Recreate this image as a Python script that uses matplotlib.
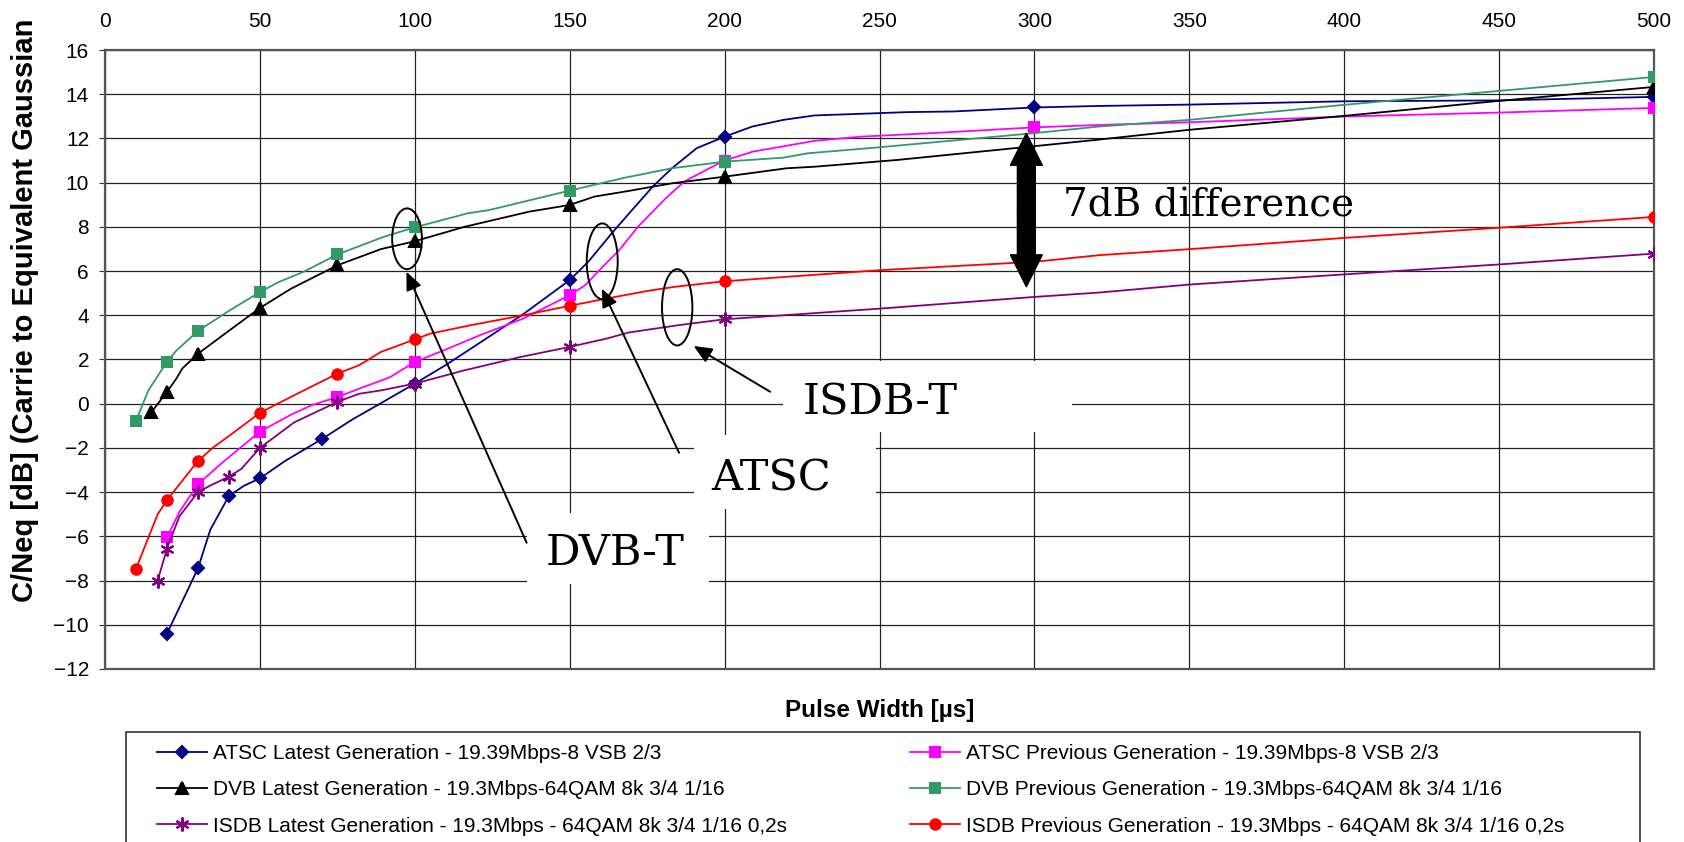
import matplotlib
matplotlib.use('Agg')
import matplotlib.pyplot as plt
from matplotlib.patches import Ellipse, Rectangle

plt.rcParams['font.family'] = ['Liberation Sans', 'DejaVu Sans']

# pulse width [us] vs C/Neq [dB], line vertices
atsc_new_x = [20, 30, 34, 40, 45, 50, 58, 70, 80, 90, 100, 110, 122, 135, 150, 156, 164, 171, 177, 183,
              191, 200, 209, 219, 229, 259, 274, 300, 321, 350, 400, 450, 500]
atsc_new_y = [-10.4, -7.45, -5.7, -4.17, -3.7, -3.38, -2.6, -1.6, -0.7, 0.1, 0.91, 1.75, 2.85, 4.05, 5.59,
              6.42, 7.78, 8.9, 9.85, 10.65, 11.56, 12.08, 12.54, 12.84, 13.04, 13.19, 13.22, 13.4, 13.47,
              13.53, 13.68, 13.72, 13.88]
atsc_new_marks = [20, 30, 40, 50, 70, 100, 150, 200, 300, 500]

atsc_old_x = [20, 24, 30, 38, 50, 60, 67, 75, 82, 92, 100, 110, 121, 135, 150, 155, 160, 166, 172, 181,
              187, 194, 200, 209, 229, 244, 267, 300, 321, 350, 400, 450, 500]
atsc_old_y = [-6.05, -4.9, -3.64, -2.65, -1.26, -0.5, -0.05, 0.3, 0.68, 1.2, 1.89, 2.45, 3.1, 3.85, 4.91,
              5.36, 6.1, 6.95, 8.0, 9.29, 10.05, 10.57, 11.0, 11.4, 11.89, 12.08, 12.24, 12.5, 12.61,
              12.73, 12.99, 13.17, 13.38]
atsc_old_marks = [20, 30, 50, 75, 100, 150, 200, 300, 500]

dvb_new_x = [15, 20, 23, 25, 30, 40, 50, 60, 75, 89, 100, 116, 137, 150, 158, 168, 183, 200, 220, 229,
             256, 300, 321, 350, 400, 450, 500]
dvb_new_y = [-0.38, 0.53, 1.13, 1.6, 2.26, 3.3, 4.33, 5.2, 6.26, 6.99, 7.35, 8.0, 8.69, 8.99, 9.37, 9.6,
             9.97, 10.27, 10.65, 10.72, 11.03, 11.65, 11.95, 12.39, 13.02, 13.7, 14.33]
dvb_new_marks = [15, 20, 30, 50, 75, 100, 150, 200, 500]

dvb_old_x = [10, 14, 20, 23, 30, 40, 50, 56, 64, 75, 90, 100, 117, 124, 137, 150, 168, 183, 200, 219,
             227, 250, 300, 321, 350, 400, 450, 500]
dvb_old_y = [-0.78, 0.6, 1.9, 2.4, 3.29, 4.2, 5.05, 5.5, 5.96, 6.75, 7.55, 7.98, 8.61, 8.76, 9.2, 9.64,
             10.23, 10.65, 10.95, 11.13, 11.33, 11.6, 12.24, 12.54, 12.84, 13.52, 14.15, 14.78]
dvb_old_marks = [10, 20, 30, 50, 75, 100, 150, 200, 500]

isdb_new_x = [17, 20, 24, 30, 34, 40, 44, 50, 61, 75, 82, 89, 100, 116, 134, 150, 162, 169, 185, 200,
              250, 300, 321, 350, 400, 450, 500]
isdb_new_y = [-8.0, -6.56, -5.1, -4.0, -3.7, -3.3, -2.95, -2.0, -0.85, 0.08, 0.45, 0.6, 0.91, 1.51, 2.11,
              2.57, 2.95, 3.22, 3.55, 3.82, 4.3, 4.83, 5.03, 5.39, 5.85, 6.3, 6.79]
isdb_new_marks = [17, 20, 30, 40, 50, 75, 100, 150, 200, 500]

isdb_old_x = [10, 17, 20, 30, 35, 41, 50, 62, 75, 82, 89, 100, 105, 118, 135, 150, 162, 175, 184, 200,
              250, 300, 321, 350, 400, 450, 500]
isdb_old_y = [-7.47, -5.0, -4.36, -2.59, -1.97, -1.36, -0.41, 0.45, 1.36, 1.74, 2.34, 2.91, 3.17, 3.55,
              4.0, 4.43, 4.76, 5.1, 5.29, 5.54, 6.04, 6.42, 6.72, 6.99, 7.5, 7.96, 8.45]
isdb_old_marks = [10, 20, 30, 50, 75, 100, 150, 200, 500]

labels = {
    'atsc_new': 'ATSC Latest Generation - 19.39Mbps-8 VSB 2/3',
    'atsc_old': 'ATSC Previous Generation - 19.39Mbps-8 VSB 2/3',
    'dvb_new': 'DVB Latest Generation - 19.3Mbps-64QAM 8k 3/4 1/16',
    'dvb_old': 'DVB Previous Generation - 19.3Mbps-64QAM 8k 3/4 1/16',
    'isdb_new': 'ISDB Latest Generation - 19.3Mbps - 64QAM 8k 3/4 1/16 0,2s',
    'isdb_old': 'ISDB Previous Generation - 19.3Mbps - 64QAM 8k 3/4 1/16 0,2s',
}

x_ticks = list(range(0, 501, 50))
y_ticks = list(range(-12, 17, 2))

# (key, x, y, marker positions, colour, marker, size)
series = [
    ('atsc_new', atsc_new_x, atsc_new_y, atsc_new_marks, '#000080', 'D', 6),
    ('atsc_old', atsc_old_x, atsc_old_y, atsc_old_marks, '#FF00FF', 's', 7),
    ('dvb_new', dvb_new_x, dvb_new_y, dvb_new_marks, '#000000', '^', 8),
    ('dvb_old', dvb_old_x, dvb_old_y, dvb_old_marks, '#339966', 's', 7),
    ('isdb_new', isdb_new_x, isdb_new_y, isdb_new_marks, '#800080', (6, 2, 0), 10),
    ('isdb_old', isdb_old_x, isdb_old_y, isdb_old_marks, '#FF0000', 'o', 7.5),
]

W, H = 1684, 842
fig = plt.figure(figsize=(W / 100, H / 100), dpi=100)
ax = fig.add_axes([105 / W, 1 - 669 / H, (1654 - 105) / W, (669 - 50) / H])

handles = {}
for key, xs, ys, marks, col, mk, ms in series:
    idx = [i for i, v in enumerate(xs) if v in marks]
    ln, = ax.plot(xs, ys, color=col, lw=1.3, marker=mk, ms=ms, markevery=idx,
                  mec=col, mfc=col, mew=1.5, label=labels[key], zorder=3)
    handles[key] = ln

ax.set_xlim(0, 500)
ax.set_ylim(-12, 16)
ax.set_xticks(x_ticks)
ax.set_yticks(y_ticks)
ax.xaxis.tick_top()
ax.tick_params(axis='x', length=0, pad=14, labelsize=15)
ax.tick_params(axis='y', length=4.5, pad=7, labelsize=15, color='#333333')
ax.set_axisbelow(True)
ax.grid(True, color='#222222', lw=0.9)
for sp in ax.spines.values():
    sp.set_color('#555555')
    sp.set_linewidth(1.6)

# white label boxes covering the grid
for (x0, x1, y0, y1) in [(136.1, 195, -8.16, -4.94), (190.1, 248.9, -4.74, -1.4), (219, 312, -1.3, 1.93)]:
    ax.add_patch(Rectangle((x0, y0), x1 - x0, y1 - y0, facecolor='white', edgecolor='none', zorder=1.5))

# ellipses around the curves
for (cx, cy, w, h) in [(97.5, 7.46, 9.6, 2.75), (160.5, 6.44, 10.0, 3.43), (184.7, 4.36, 9.8, 3.45)]:
    ax.add_patch(Ellipse((cx, cy), w, h, fill=False, edgecolor='black', lw=1.4, zorder=4))

arrow_kw = dict(arrowstyle='-|>,head_length=0.55,head_width=0.24', color='black', lw=1.4,
                mutation_scale=20, shrinkA=0, shrinkB=0)
ax.annotate('', xy=(97.3, 5.97), xytext=(136.1, -6.29), arrowprops=arrow_kw, zorder=4)
ax.annotate('', xy=(160.4, 5.2), xytext=(185.3, -2.22), arrowprops=arrow_kw, zorder=4)
ax.annotate('', xy=(190.0, 2.61), xytext=(214.7, 0.54), arrowprops=arrow_kw, zorder=4)

# thick double arrow showing the gap
big = dict(arrowstyle='simple,head_length=0.5,head_width=0.5,tail_width=0.28', color='black',
           mutation_scale=46, shrinkA=0, shrinkB=0)
mid = (12.23 + 5.29) / 2
ax.annotate('', xy=(297.4, 12.23), xytext=(297.4, mid), arrowprops=big, zorder=5)
ax.annotate('', xy=(297.4, 5.29), xytext=(297.4, mid), arrowprops=big, zorder=5)

serif = ['DejaVu Serif']
ax.text(309.2, 8.46, '7dB difference', family=serif, fontsize=28, ha='left', va='baseline', zorder=6)
ax.text(164.8, -7.30, 'DVB-T', family=serif, fontsize=31, ha='center', va='baseline', zorder=6)
ax.text(215.0, -3.91, 'ATSC', family=serif, fontsize=31, ha='center', va='baseline', zorder=6)
ax.text(250.3, -0.48, 'ISDB-T', family=serif, fontsize=31, ha='center', va='baseline', zorder=6)

fig.text(25 / W, (H - 602) / H, 'C/Neq [dB] (Carrie to Equivalent Gaussian', rotation=90,
         ha='center', va='bottom', fontsize=21, fontweight='bold')
fig.text(879.5 / W, 1 - 710 / H, 'Pulse Width [µs]', ha='center', va='center',
         fontsize=17.5, fontweight='bold')

order = ['atsc_new', 'dvb_new', 'isdb_new', 'atsc_old', 'dvb_old', 'isdb_old']
fig.legend([handles[k] for k in order], [labels[k] for k in order], loc='upper left',
           bbox_to_anchor=(157 / W, 1 - 744 / H), ncol=2, frameon=False, borderpad=0,
           borderaxespad=0, handlelength=2.4, handletextpad=0.3, columnspacing=5.9,
           labelspacing=0.83, fontsize=15)
fig.add_artist(Rectangle((126 / W, -0.05), (1640 - 126) / W, (H - 732) / H + 0.05,
                         transform=fig.transFigure, fill=False, edgecolor='#333333', lw=1.2))

fig.savefig('out.png', dpi=100)
